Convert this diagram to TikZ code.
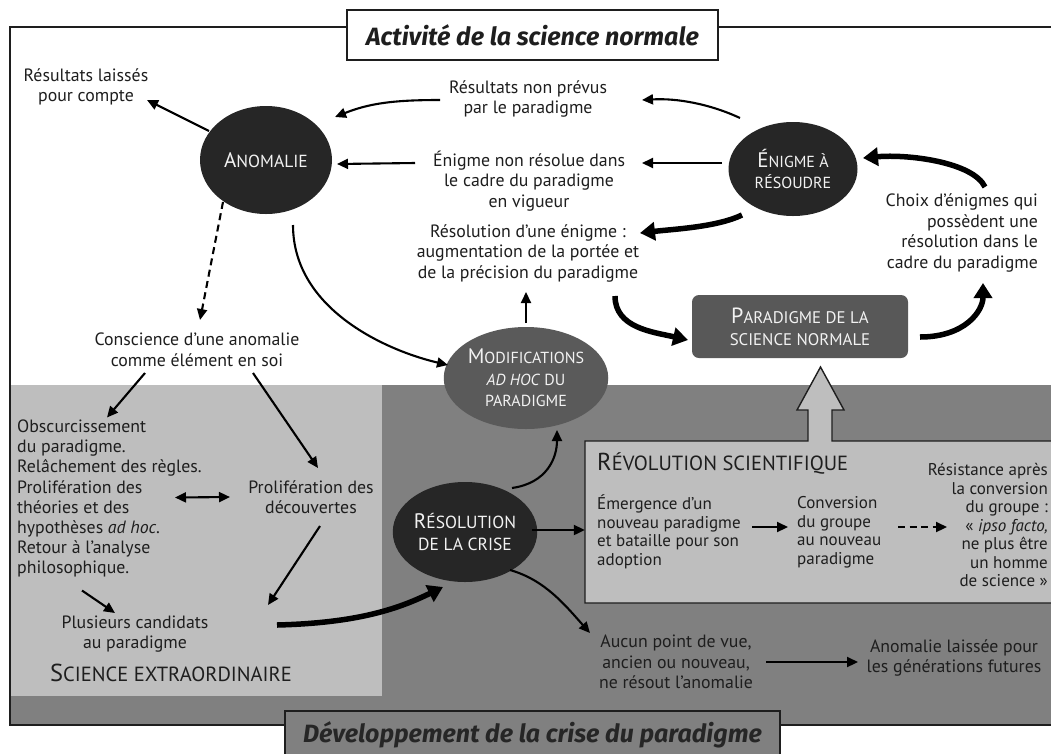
\documentclass[tikz,border=0pt]{standalone}
\usepackage{fontspec}
\setmainfont{PT Sans}
\newfontfamily\titlefam{Fira Sans}
\usetikzlibrary{arrows.meta,shapes.geometric}
\definecolor{dkgray}{HTML}{808080}
\definecolor{ltgray}{HTML}{BEBEBE}
\definecolor{blob}{HTML}{262626}
\definecolor{midblob}{HTML}{5A5A5A}
\definecolor{paradc}{HTML}{585858}
\definecolor{txt}{HTML}{1E1E1E}
\definecolor{wtxt}{HTML}{F2F2F2}
\newcommand\lblfont{\fontsize{17.8}{20.5}\selectfont}
\newcommand\boxfont{\fontsize{17}{18.5}\selectfont}
\newcommand\blobfont{\fontsize{21}{21.5}\selectfont}
\newcommand\paradfont{\fontsize{22}{22}\selectfont}
\newcommand\titlefont{\fontsize{25}{28}\selectfont\titlefam\bfseries\itshape}
\newcommand\smc[1]{{\fontsize{16}{21.5}\selectfont #1}}
\newcommand\smcB[1]{{\fontsize{17.5}{21.5}\selectfont #1}}
\newcommand\smcP[1]{{\fontsize{16.8}{22}\selectfont #1}}
\newcommand\smcL[1]{{\fontsize{20.5}{24}\selectfont #1}}
\begin{document}
\begin{tikzpicture}[x=1pt,y=-1pt,
  every node/.style={inner sep=0pt, text=txt},
  lbl/.style={align=center, font=\lblfont},
  blobA/.style={ellipse, fill=blob, text=wtxt, align=center, font=\blobfont},
  frame/.style={draw=txt, line width=1.4pt},
  arr/.style={draw=black, line width=2.1pt, -{Triangle[length=11pt,width=10pt]}},
  dblarr/.style={draw=black, line width=2.1pt, {Triangle[length=11pt,width=10pt]}-{Triangle[length=11pt,width=10pt]}},
  dasharr/.style={arr, dash pattern=on 7pt off 4.5pt},
  bigarr/.style={draw=black, line width=5.5pt, -{Triangle[length=15pt,width=18pt]}},
]
\useasboundingbox (0,0) rectangle (1051,753);
\fill[white] (0,0) rectangle (1051,753);

% regions
\fill[dkgray] (10,385) rectangle (1060,725);
\fill[ltgray] (10,385) rectangle (382,696);
\draw[frame] (1060,27) -- (10,27) -- (10,725) -- (1060,725);

% titles
\node[draw=txt, line width=1.3pt, fill=white, minimum width=371pt, minimum height=50pt, font=\titlefont] (ttop) at (532.5,35) {Activité de la science normale};
\node[draw=txt, line width=1.3pt, fill=dkgray, minimum width=495pt, minimum height=48pt, font=\titlefont, text=blob] (tbot) at (532.5,735) {Développement de la crise du paradigme};

% revolution box with big arrow
\node[minimum width=475pt, minimum height=162pt] (rev) at (822.5,522) {};
\filldraw[fill=ltgray, draw=txt, line width=1.4pt]
  (585,441) -- (808,441) -- (808,410) -- (797,410) -- (820.5,367) -- (844,410)
  -- (832,410) -- (832,441) -- (1062,441) -- (1062,603) -- (585,603) -- cycle;

% main shapes
\node[blobA, minimum width=132pt, minimum height=108pt] (anom) at (266,160) {A\smcB{NOMALIE}};
\node[blobA, minimum width=129pt, minimum height=94pt] (enig) at (793,169) {É\smc{NIGME À}\\\smc{RÉSOUDRE}};
\node[blobA, fill=midblob, minimum width=130pt, minimum height=102pt] (modif) at (526,378) {M\smc{ODIFICATIONS}\\\smc{\textit{AD HOC} DU}\\\smc{PARADIGME}};
\node[blobA, minimum width=132pt, minimum height=100pt] (resol) at (465,532) {R\smcB{ÉSOLUTION}\\\smcB{DE LA CRISE}};
\node[rectangle, rounded corners=7pt, fill=paradc, minimum width=216pt, minimum height=63pt, text=wtxt, align=center, font=\paradfont] (parad) at (800,326.5) {P\smcP{ARADIGME DE LA}\\\smcP{SCIENCE NORMALE}};

% labels
\node[lbl] (rl) at (86,87) {Résultats laissés\\pour compte};
\node[lbl] (rnp) at (528,99) {Résultats non prévus\\par le paradigme};
\node[lbl] (enr) at (529,181) {Énigme non résolue dans\\le cadre du paradigme\\en vigueur};
\node[lbl] (reso) at (528,253) {Résolution d’une énigme~:\\augmentation de la portée et\\de la précision du paradigme};
\node[lbl, align=right, anchor=east] (choix) at (1038,233) {Choix d’énigmes qui\\possèdent une\\résolution dans le\\cadre du paradigme};
\node[lbl] (consc) at (197,350) {Conscience d’une anomalie\\comme élément en soi};
\node[lbl, align=left, anchor=west, font=\fontsize{17.8}{20.1}\selectfont] (obsc) at (17,498.5) {Obscurcissement\\du paradigme.\\Relâchement des règles.\\Prolifération des\\théories et des\\hypothèses \textit{ad hoc}.\\Retour à l’analyse\\philosophique.};
\node[lbl] (prolif) at (311,497) {Prolifération des\\découvertes};
\node[lbl] (plus) at (135,634) {Plusieurs candidats\\au paradigme};
\node[font=\fontsize{24.5}{24}\selectfont] (scext) at (171,673) {S\smcL{CIENCE EXTRAORDINAIRE}};
\node[font=\fontsize{24.5}{24}\selectfont, anchor=west] (revt) at (597,463) {R\smcL{ÉVOLUTION SCIENTIFIQUE}};
\node[align=left, anchor=west, font=\boxfont] (emerg) at (597,532) {Émergence d’un\\nouveau paradigme\\et bataille pour son\\adoption};
\node[align=left, anchor=west, font=\boxfont] (conv) at (797,532) {Conversion\\du groupe\\au nouveau\\paradigme};
\node[align=right, anchor=east, font=\boxfont] (resist) at (1048,525) {Résistance après\\la conversion\\du groupe~:\\«~\textit{ipso facto,}\\ne plus être\\un homme\\de science~»};
\node[lbl] (aucun) at (676,662) {Aucun point de vue,\\ancien ou nouveau,\\ne résout l’anomalie};
\node[lbl] (anolaiss) at (954,658) {Anomalie laissée pour\\les générations futures};

% connectors
\draw[arr] ([shift={(-57,-29)}]anom.center) -- ([shift={(61,13)}]rl.center);
\draw[arr] ([shift={(-53,-51)}]enig.center) .. controls +(-30,-14) and +(35,-2) .. ([shift={(114,1)}]rnp.center);
\draw[arr] ([shift={(-88,1)}]rnp.center) .. controls +(-45,0) and +(35,-14) .. ([shift={(69,-43)}]anom.center);
\draw[arr] ([shift={(-71,-6)}]enig.center) -- ([shift={(113,-18)}]enr.center);
\draw[arr] ([shift={(-114,-18)}]enr.center) -- ([shift={(71,4)}]anom.center);
\draw[bigarr] ([shift={(-51,46)}]enig.center) .. controls +(-25,12) and +(35,-4) .. ([shift={(112,-20)}]reso.center);
\draw[arr] ([shift={(0,-55)}]modif.center) -- ([shift={(-2,39)}]reso.center);
\draw[bigarr] ([shift={(87,43)}]reso.center) .. controls +(0,32) and +(-35,-8) .. ([shift={(-112,13.5)}]parad.center);
\draw[bigarr] ([shift={(120,10.5)}]parad.center) .. controls +(45,0) and +(0,28) .. ([shift={(-55,50)}]choix.east);
\draw[bigarr] ([shift={(-53,-46)}]choix.east) .. controls +(-12,-25) and +(45,-4) .. ([shift={(70,-11)}]enig.center);
\draw[dasharr] ([shift={(-43,42)}]anom.center) -- ([shift={(3,-30)}]consc.center);
\draw[arr] ([shift={(27,65)}]anom.center) .. controls +(0,85) and +(-60,-14) .. ([shift={(-78,-13)}]modif.center);
\draw[arr] ([shift={(-52,23)}]consc.center) -- ([shift={(90,-81)}]obsc.west);
\draw[arr] ([shift={(56,23)}]consc.center) -- ([shift={(7,-29)}]prolif.center);
\draw[dblarr] ([shift={(158,-1)}]obsc.west) -- ([shift={(-81,0)}]prolif.center);
\draw[arr] ([shift={(9,29)}]prolif.center) -- ([shift={(133,-29)}]plus.center);
\draw[arr] ([shift={(65,92)}]obsc.west) -- ([shift={(-20,-21)}]plus.center);
\draw[bigarr] ([shift={(142,-9)}]plus.center) .. controls +(80,-2) and +(-45,22) .. ([shift={(-22,55)}]resol.center);
\draw[arr] ([shift={(47,-44)}]resol.center) .. controls +(35,-5) and +(0,28) .. ([shift={(31,52)}]modif.center);
\draw[arr] ([shift={(67,-2)}]resol.center) -- ([shift={(0,8)}]rev.west);
\draw[arr] ([shift={(45,38)}]resol.center) .. controls +(35,10) and +(-25,-28) .. ([shift={(-86,-29)}]aucun.center);
\draw[arr] ([shift={(90,0)}]aucun.center) -- ([shift={(-96,4)}]anolaiss.center);
\draw[arr] ([shift={(155,-5)}]emerg.west) -- ([shift={(-9,-5)}]conv.west);
\draw[dasharr] ([shift={(101,-5)}]conv.west) -- ([shift={(-101,2)}]resist.east);
\end{tikzpicture}
\end{document}
